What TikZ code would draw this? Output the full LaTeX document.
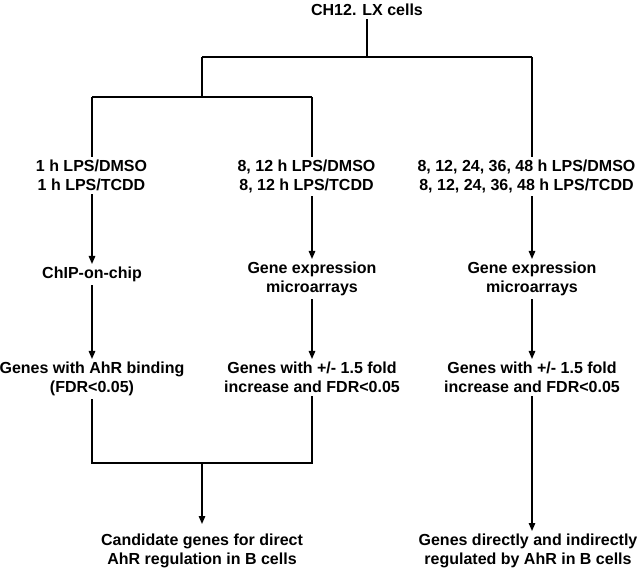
\documentclass[tikz,border=0pt]{standalone}
\usepackage{fontspec}
\setmainfont{Liberation Sans}
\usetikzlibrary{arrows.meta}
\begin{document}
\begin{tikzpicture}[x=1pt,y=-1pt,
  lbl/.style={font=\bfseries\fontsize{16}{19}\selectfont, align=center, inner sep=3pt, anchor=north},
  wire/.style={line width=1.4pt},
  arr/.style={wire, -{Triangle[length=8pt,width=6.5pt]}}]
\useasboundingbox (0,0) rectangle (640,569);
% text nodes
\node[lbl] (top) at (367,1) {CH12. LX cells};
\node[lbl] (t1) at (91.5,157) {1 h LPS/DMSO\\1 h LPS/TCDD};
\node[lbl] (t2) at (306.5,157) {8, 12 h LPS/DMSO\\8, 12 h LPS/TCDD};
\node[lbl] (t3) at (526.5,157) {8, 12, 24, 36, 48 h LPS/DMSO\\8, 12, 24, 36, 48 h LPS/TCDD};
\node[lbl] (m1) at (92,264) {ChIP-on-chip};
\node[lbl] (m2) at (312,259) {Gene expression\\microarrays};
\node[lbl] (m3) at (532,259) {Gene expression\\microarrays};
\node[lbl] (b1) at (92,359) {Genes with AhR binding\\(FDR<0.05)};
\node[lbl] (b2) at (312,359) {Genes with +/- 1.5 fold\\increase and FDR<0.05};
\node[lbl] (b3) at (532,359) {Genes with +/- 1.5 fold\\increase and FDR<0.05};
\node[lbl] (f1) at (202,531) {Candidate genes for direct\\AhR regulation in B cells};
\node[lbl] (f2) at (528,531) {Genes directly and indirectly\\regulated by AhR in B cells};
% junctions
\coordinate (jt) at (367,57);
\coordinate (jl) at (202,57);
\coordinate (jr) at (532,57);
\coordinate (jm) at (202,97);
\coordinate (ja) at (92,97);
\coordinate (jb) at (312,97);
\coordinate (ka) at (92,463);
\coordinate (kb) at (312,463);
\coordinate (km) at (202,463);
% connectors
\draw[wire] (top.south) -- (jt);
\draw[wire] (jl) -- (jr);
\draw[wire] (jl) -- (jm);
\draw[wire] (ja) -- (jb);
\draw[wire] (ja) -- (ja |- t1.north);
\draw[wire] (jb) -- (jb |- t2.north);
\draw[wire] (jr) -- (jr |- t3.north);
\draw[arr] (t1.south -| m1) -- (m1.north);
\draw[arr] (t2.south -| m2) -- (m2.north);
\draw[arr] (t3.south -| m3) -- (m3.north);
\draw[arr] (m1.south) -- (b1.north);
\draw[arr] (m2.south) -- (b2.north);
\draw[arr] (m3.south) -- (b3.north);
\draw[wire] (b1.south) -- (ka) -- (kb) -- (b2.south);
\draw[arr, shorten >=7pt] (km) -- (km |- f1.north);
\draw[arr] (b3.south) -- (b3.south |- f2.north);
\end{tikzpicture}
\end{document}
